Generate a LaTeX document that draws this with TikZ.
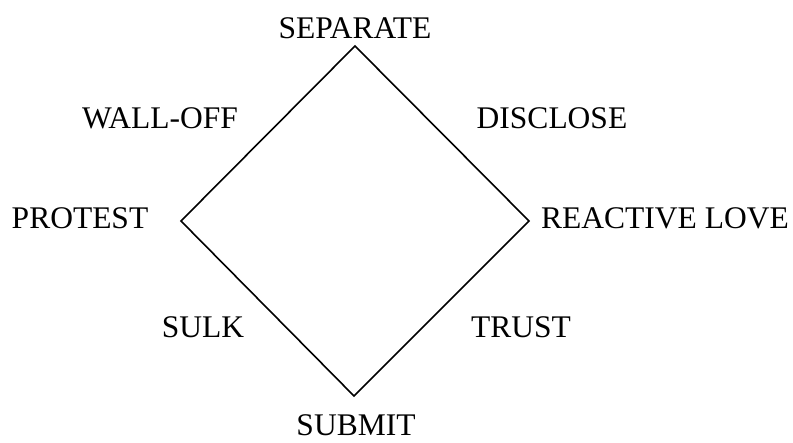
\documentclass[tikz,border=0pt]{standalone}
\usepackage{fontspec}
\setmainfont{Liberation Serif}
\begin{document}
\begin{tikzpicture}[x=1pt,y=-1pt,
  lbl/.style={anchor=base,inner sep=0pt,font=\fontsize{31.5}{36}\selectfont},
  edge/.style={line width=1.6pt,line join=miter}]
\useasboundingbox (0,0) rectangle (793,443);
\coordinate (T) at (355,46);
\coordinate (R) at (529,221);
\coordinate (B) at (354,396);
\coordinate (L) at (181,221);
\draw[edge] (T) -- (R) -- (B) -- (L) -- cycle;
\node[lbl] (sep) at (355,39) {SEPARATE};
\node[lbl] (wall) at (160,129) {WALL-OFF};
\node[lbl] (disc) at (552,129) {DISCLOSE};
\node[lbl] (prot) at (80,229) {PROTEST};
\node[lbl] (rl) at (665,229) {REACTIVE LOVE};
\node[lbl] (sulk) at (203,338) {SULK};
\node[lbl] (trust) at (521,338) {TRUST};
\node[lbl] (sub) at (356,435.5) {SUBMIT};
\end{tikzpicture}
\end{document}
